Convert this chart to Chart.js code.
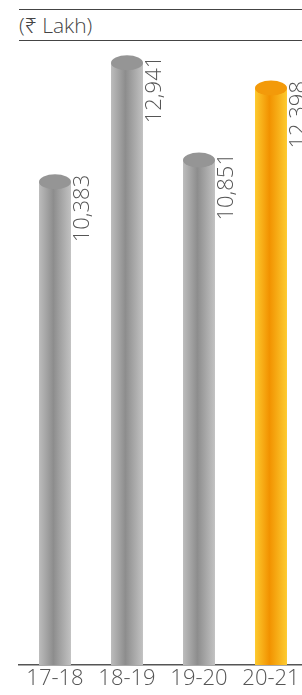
<!DOCTYPE html>
<html>
<head>
<meta charset="utf-8">
<script src="https://cdn.jsdelivr.net/npm/chart.js@4"></script>
<style>
  html, body { margin: 0; padding: 0; background: #fff; overflow: hidden; }
  body { width: 302px; height: 695px; position: relative; }
  .wrap { position: absolute; left: 0; top: 0; width: 310px; height: 695px; }
  .head {
    position: absolute; left: 19px; top: 9px; width: 283px; height: 30px;
    border-top: 1px solid #444; border-bottom: 1px solid #444;
    font-family: "Open Sans", "Noto Sans", sans-serif; font-weight: 300;
    font-size: 21px; color: #444; line-height: 30px; box-sizing: content-box;
  }
</style>
</head>
<body>
<div class="head">(₹ Lakh)</div>
<div class="wrap"><canvas id="barChart"></canvas></div>
<script>
// ------------------------------------------
// Data
// ------------------------------------------
const years = ['17-18', '18-19', '19-20', '20-21'];
const values = [10383, 12941, 10851, 12398];
const valueLabels = ['10,383', '12,941', '10,851', '12,398'];
const highlight = [false, false, false, true];

// cylinder colours: [edge left, centre, edge right, top]
const grayTone = ['#bcbcbc', '#8d8d8d', '#c2c2c2', '#959595'];
const orangeTone = ['#fdca2e', '#f29200', '#fdcb30', '#f39a0a'];

const FONT = '"Open Sans", "Noto Sans", sans-serif';

function barGradient(context) {
    const chart = context.chart;
    if (!chart.chartArea || !chart.scales.x) return '#999';
    const i = context.dataIndex;
    const tone = highlight[i] ? orangeTone : grayTone;
    const el = chart.getDatasetMeta(0).data[i];
    let x0, w;
    if (el && el.width) {
        x0 = el.x - el.width / 2; w = el.width;
    } else {
        const cx = chart.scales.x.getPixelForValue(i);
        x0 = cx - 16; w = 32;
    }
    const g = chart.ctx.createLinearGradient(x0, 0, x0 + w, 0);
    g.addColorStop(0, tone[0]);
    g.addColorStop(0.45, tone[1]);
    g.addColorStop(1, tone[2]);
    return g;
}

// tops of the cylinders + rotated value labels
const cylinderTops = {
    id: 'cylinderTops',
    afterDatasetsDraw(chart) {
        const ctx = chart.ctx;
        chart.getDatasetMeta(0).data.forEach((bar, i) => {
            const tone = highlight[i] ? orangeTone : grayTone;
            const half = bar.width / 2;
            ctx.save();
            ctx.beginPath();
            ctx.ellipse(bar.x, bar.y, half, 7.5, 0, 0, Math.PI * 2);
            ctx.fillStyle = tone[3];
            ctx.fill();

            ctx.translate(bar.x + half + 1, bar.y - 7);
            ctx.rotate(-Math.PI / 2);
            ctx.font = '300 22px ' + FONT;
            ctx.fillStyle = '#555';
            ctx.textAlign = 'right';
            ctx.textBaseline = 'top';
            ctx.fillText(valueLabels[i], 0, 0);
            ctx.restore();
        });
    }
};

const chart = new Chart(document.getElementById('barChart'), {
    type: 'bar',
    data: {
        labels: years,
        datasets: [{
            data: values,
            backgroundColor: barGradient,
            borderWidth: 0,
            categoryPercentage: 1,
            barPercentage: 0.444
        }]
    },
    options: {
        responsive: true,
        maintainAspectRatio: false,
        animation: false,
        layout: { padding: { top: 60, left: 19, right: 3, bottom: 0 } },
        plugins: { legend: { display: false }, tooltip: { enabled: false } },
        scales: {
            y: { display: false, min: 0, max: 13000 },
            x: {
                grid: { display: false, drawTicks: false },
                border: { display: true, color: '#555', width: 1.5 },
                ticks: {
                    color: '#555', padding: 1,
                    font: { family: FONT, size: 22, weight: 300 }
                },
                afterFit(scale) { scale.height = 30; }
            }
        }
    },
    plugins: [cylinderTops]
});
</script>
</body>
</html>
